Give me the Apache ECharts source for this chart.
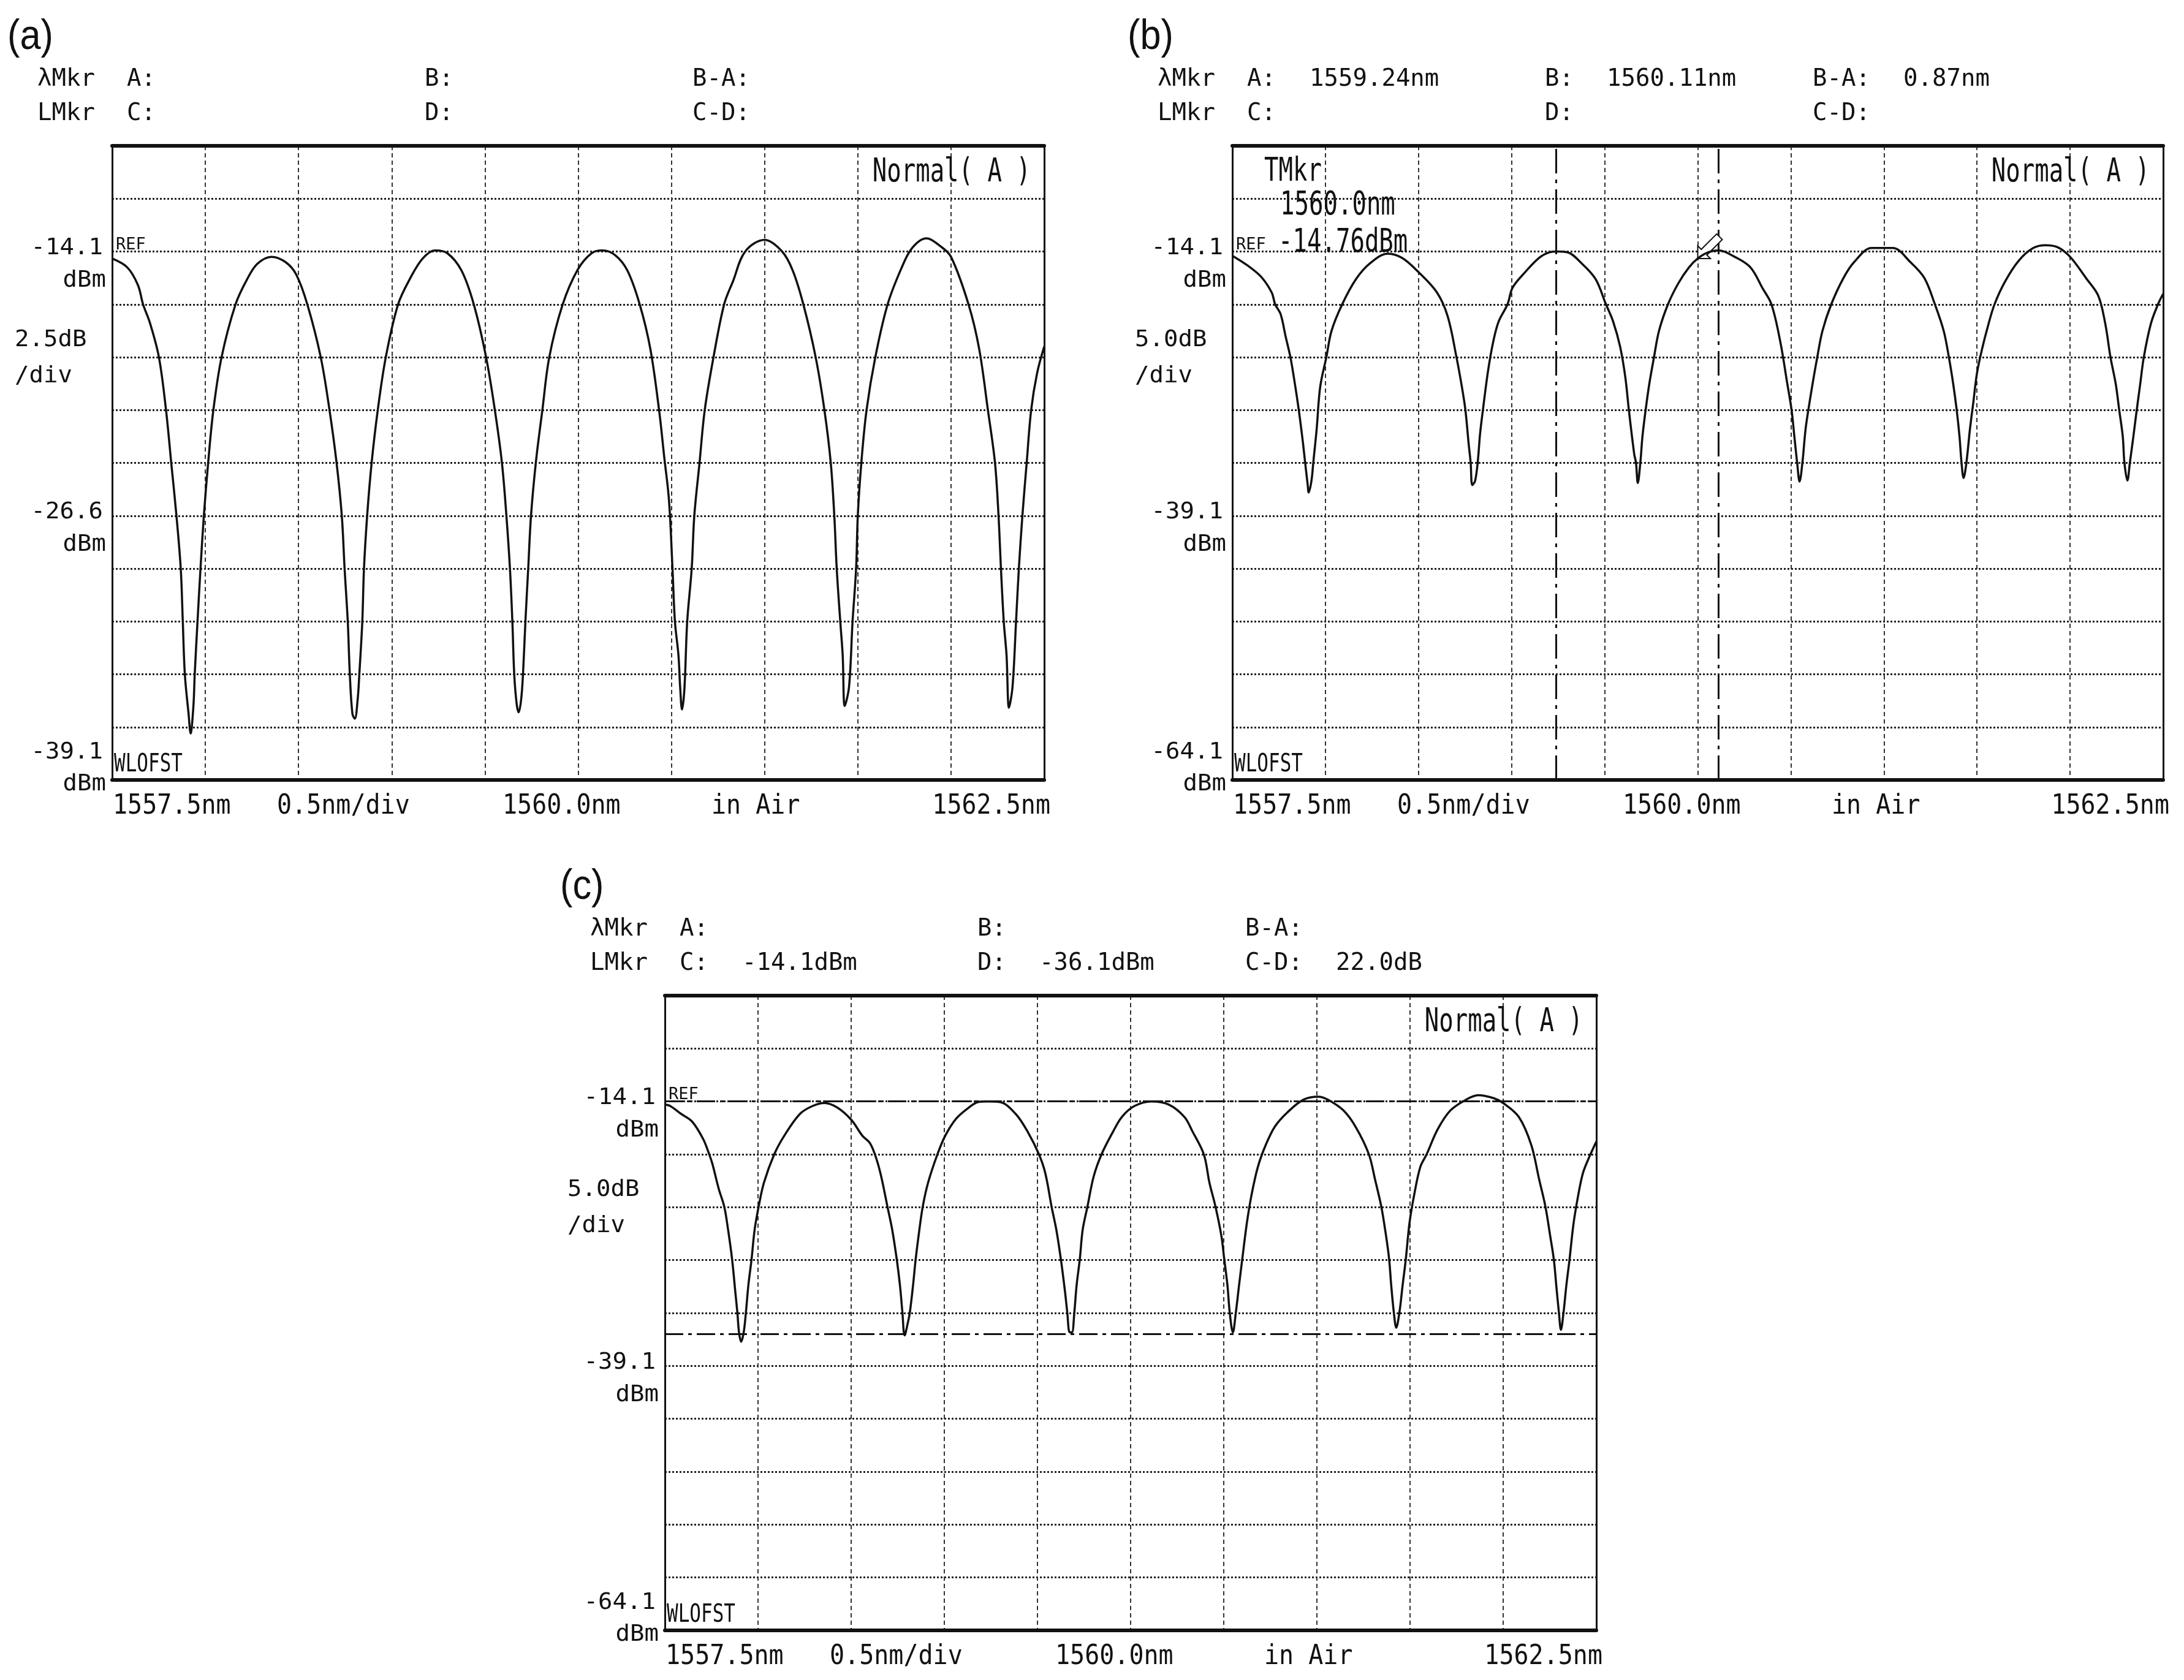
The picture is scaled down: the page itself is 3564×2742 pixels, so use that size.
<!DOCTYPE html>
<html>
<head>
<meta charset="utf-8">
<script src="https://cdn.jsdelivr.net/npm/echarts@6/dist/echarts.min.js"></script>
<style>
html,body{margin:0;padding:0;background:#fff}
#main{width:3564px;height:2742px}
</style>
</head>
<body>
<div id="main"></div>
<script>
// ---------------- data ----------------
const PANEL_NAMES = ['(a)', '(b)', '(c)'];
const X_MIN = 1557.5, X_MAX = 1562.5, X_STEP = 0.5;
const X_LABELS = ['1557.5nm', '0.5nm/div', '1560.0nm', 'in Air', '1562.5nm'];

const WL_A = [1557.500,1557.581,1557.638,1557.666,1557.704,1557.751,1557.789,1557.817,1557.845,1557.868,1557.879,1557.890,1557.910,1557.921,1557.936,1557.943,1557.958,1557.974,1557.992,1558.015,1558.043,1558.087,1558.162,1558.223,1558.279,1558.355,1558.430,1558.487,1558.547,1558.619,1558.666,1558.704,1558.732,1558.747,1558.764,1558.775,1558.789,1558.802,1558.817,1558.826,1558.842,1558.851,1558.868,1558.892,1558.925,1558.968,1559.034,1559.100,1559.166,1559.232,1559.298,1559.374,1559.440,1559.506,1559.553,1559.591,1559.615,1559.634,1559.647,1559.657,1559.670,1559.681,1559.694,1559.704,1559.717,1559.732,1559.747,1559.774,1559.808,1559.845,1559.917,1559.998,1560.072,1560.130,1560.198,1560.264,1560.330,1560.387,1560.434,1560.462,1560.487,1560.506,1560.519,1560.538,1560.547,1560.557,1560.570,1560.585,1560.609,1560.623,1560.651,1560.679,1560.726,1560.783,1560.830,1560.896,1561.000,1561.094,1561.151,1561.208,1561.274,1561.321,1561.355,1561.374,1561.387,1561.406,1561.419,1561.430,1561.453,1561.472,1561.491,1561.500,1561.519,1561.547,1561.594,1561.660,1561.736,1561.792,1561.868,1561.943,1562.000,1562.094,1562.151,1562.198,1562.236,1562.255,1562.268,1562.283,1562.298,1562.311,1562.330,1562.349,1562.364,1562.383,1562.406,1562.430,1562.462,1562.500];
const DBM_A = [-14.43,-14.85,-15.68,-16.6,-17.51,-19.1,-21.6,-24.1,-26.6,-29.1,-31.6,-34.1,-35.97,-36.9,-35.6,-34.1,-31.6,-29.1,-26.6,-24.1,-21.6,-19.1,-16.6,-15.43,-14.68,-14.35,-14.6,-15.18,-16.6,-19.1,-21.6,-24.1,-26.6,-29.1,-31.6,-34.1,-35.97,-36.2,-35.3,-34.1,-31.6,-29.1,-26.6,-24.1,-21.6,-19.1,-16.6,-15.35,-14.43,-14.05,-14.18,-15.0,-16.6,-19.1,-21.6,-24.1,-26.6,-29.1,-31.6,-34.1,-35.5,-35.9,-35.3,-34.1,-31.6,-29.1,-26.6,-24.0,-21.6,-19.1,-16.6,-14.95,-14.18,-14.05,-14.27,-15.0,-16.6,-18.7,-21.6,-23.85,-25.85,-29.1,-31.6,-33.2,-34.7,-35.77,-34.77,-31.6,-29.1,-26.6,-24.1,-21.6,-19.1,-16.6,-15.52,-14.1,-13.55,-14.1,-15.0,-16.6,-19.1,-21.6,-24.1,-26.6,-29.1,-31.6,-33.2,-35.6,-34.7,-31.6,-29.1,-26.6,-24.1,-21.6,-19.1,-16.6,-14.85,-13.93,-13.48,-13.85,-14.35,-16.6,-18.7,-21.6,-24.1,-26.6,-29.1,-31.6,-33.2,-35.68,-34.7,-31.6,-29.1,-26.6,-24.1,-21.6,-19.85,-18.6];

const WL_B = [1557.500,1557.580,1557.655,1557.712,1557.730,1557.759,1557.787,1557.812,1557.835,1557.857,1557.878,1557.891,1557.905,1557.910,1557.925,1557.935,1557.953,1557.972,1558.005,1558.033,1558.090,1558.165,1558.241,1558.336,1558.411,1558.497,1558.600,1558.657,1558.704,1558.733,1558.752,1558.770,1558.780,1558.789,1558.804,1558.818,1558.831,1558.846,1558.874,1558.903,1558.931,1558.978,1559.006,1559.073,1559.148,1559.205,1559.243,1559.300,1559.375,1559.451,1559.507,1559.545,1559.583,1559.611,1559.630,1559.659,1559.668,1559.678,1559.692,1559.703,1559.720,1559.740,1559.765,1559.792,1559.840,1559.896,1559.953,1560.000,1560.057,1560.113,1560.198,1560.283,1560.349,1560.396,1560.443,1560.481,1560.504,1560.519,1560.534,1560.547,1560.562,1560.579,1560.594,1560.617,1560.642,1560.670,1560.717,1560.783,1560.840,1560.934,1561.047,1561.142,1561.217,1561.274,1561.321,1561.349,1561.372,1561.391,1561.406,1561.417,1561.428,1561.443,1561.462,1561.481,1561.500,1561.528,1561.557,1561.594,1561.651,1561.726,1561.802,1561.868,1561.934,1562.000,1562.085,1562.151,1562.189,1562.217,1562.245,1562.264,1562.283,1562.292,1562.308,1562.321,1562.340,1562.358,1562.377,1562.396,1562.434,1562.472,1562.500];
const DBM_B = [-14.5,-15.4,-16.5,-18.0,-19.1,-20.0,-22.2,-24.1,-26.5,-29.1,-32.0,-34.05,-36.2,-36.9,-35.8,-34.05,-30.9,-26.9,-24.1,-21.6,-19.1,-16.7,-15.2,-14.3,-14.7,-16.0,-18.0,-20.25,-24.1,-26.9,-29.1,-32.4,-34.05,-36.2,-35.8,-34.05,-31.3,-29.1,-25.35,-22.5,-20.7,-19.1,-17.5,-16.05,-14.7,-14.17,-14.1,-14.17,-15.2,-16.7,-19.1,-20.7,-23.1,-26.0,-29.1,-33.3,-34.05,-36.0,-34.0,-31.6,-29.1,-26.6,-24.1,-21.6,-19.1,-17.1,-15.6,-14.76,-14.17,-14.0,-14.6,-15.6,-17.6,-19.1,-22.6,-26.6,-29.1,-31.6,-34.1,-35.87,-34.1,-30.93,-29.1,-26.6,-24.1,-21.6,-19.1,-16.6,-15.1,-13.77,-13.77,-15.1,-16.6,-19.1,-21.6,-24.1,-26.6,-29.1,-31.6,-34.1,-35.53,-34.1,-30.93,-28.27,-25.6,-23.27,-21.27,-19.1,-16.93,-14.93,-13.77,-13.5,-13.7,-14.6,-16.6,-18.27,-20.93,-24.1,-26.6,-29.1,-31.6,-34.1,-35.77,-34.1,-31.6,-29.1,-26.6,-24.1,-20.93,-19.1,-18.1];

const WL_C = [1557.500,1557.529,1557.587,1557.646,1557.705,1557.738,1557.755,1557.789,1557.819,1557.839,1557.861,1557.878,1557.889,1557.898,1557.909,1557.923,1557.935,1557.948,1557.965,1557.982,1558.003,1558.032,1558.087,1558.141,1558.225,1558.292,1558.356,1558.426,1558.502,1558.560,1558.602,1558.636,1558.661,1558.695,1558.720,1558.745,1558.762,1558.775,1558.787,1558.804,1558.815,1558.832,1558.846,1558.862,1558.884,1558.913,1558.963,1559.005,1559.064,1559.131,1559.181,1559.232,1559.299,1559.383,1559.450,1559.508,1559.542,1559.576,1559.601,1559.626,1559.648,1559.660,1559.673,1559.685,1559.698,1559.710,1559.727,1559.743,1559.768,1559.802,1559.844,1559.903,1559.953,1560.020,1560.112,1560.205,1560.289,1560.331,1560.393,1560.423,1560.456,1560.487,1560.503,1560.520,1560.532,1560.549,1560.565,1560.582,1560.599,1560.624,1560.649,1560.683,1560.725,1560.775,1560.842,1560.926,1561.007,1561.060,1561.144,1561.211,1561.279,1561.312,1561.346,1561.371,1561.388,1561.399,1561.413,1561.426,1561.443,1561.460,1561.477,1561.497,1561.522,1561.555,1561.589,1561.648,1561.715,1561.799,1561.866,1561.950,1562.000,1562.084,1562.151,1562.193,1562.227,1562.252,1562.272,1562.285,1562.299,1562.310,1562.324,1562.339,1562.356,1562.378,1562.403,1562.428,1562.461,1562.500];
const DBM_C = [-14.4,-14.54,-15.28,-16.0,-17.64,-19.1,-20.0,-22.36,-24.07,-26.2,-29.06,-32.1,-34.04,-35.93,-36.81,-35.93,-34.04,-31.5,-29.06,-26.2,-24.07,-21.77,-19.1,-17.34,-15.28,-14.54,-14.25,-14.69,-15.87,-17.34,-18.08,-19.56,-21.18,-24.07,-26.2,-29.06,-31.5,-34.04,-36.22,-35.04,-34.04,-31.5,-29.06,-26.78,-24.07,-21.77,-19.1,-17.34,-15.72,-14.69,-14.16,-14.1,-14.16,-15.28,-17.05,-19.1,-20.88,-24.07,-26.2,-29.06,-32.1,-34.04,-35.93,-35.93,-34.04,-31.5,-29.06,-26.2,-24.07,-21.18,-19.1,-17.05,-15.57,-14.54,-14.1,-14.4,-15.57,-16.9,-19.1,-21.77,-24.07,-26.78,-29.06,-31.5,-34.04,-35.93,-34.04,-31.5,-29.06,-25.6,-22.95,-20.3,-18.23,-16.46,-15.13,-13.95,-13.66,-13.95,-14.98,-16.6,-19.1,-21.47,-24.07,-26.78,-29.06,-31.5,-34.04,-35.49,-34.04,-31.5,-29.06,-25.6,-22.95,-20.3,-19.1,-16.75,-14.98,-13.95,-13.51,-13.8,-14.25,-15.57,-18.23,-21.47,-24.07,-26.78,-29.06,-31.5,-34.04,-35.69,-34.04,-31.5,-29.06,-25.6,-22.95,-20.88,-19.4,-17.9];

// y scale per panel: [bottom, top, REF level, dB per division]
const Y_SCALE_A = [-39.1, -9.1, -14.1, 2.5];
const Y_SCALE_B = [-64.1, -4.1, -14.1, 5.0];
const Y_SCALE_C = [-64.1, -4.1, -14.1, 5.0];
const Y_LABELS_A = [-14.1, -26.6, -39.1];
const Y_LABELS_B = [-14.1, -39.1, -64.1];
const Y_LABELS_C = [-14.1, -39.1, -64.1];
const DIV_LABEL_A = ['2.5dB', '/div'];
const DIV_LABEL_B = ['5.0dB', '/div'];
const DIV_LABEL_C = ['5.0dB', '/div'];

const HEADER_LABELS = [['λMkr', 'A:', 'B:', 'B-A:'], ['LMkr', 'C:', 'D:', 'C-D:']];
const HEADER_VALUES_A = [['', '', ''], ['', '', '']];
const HEADER_VALUES_B = [['1559.24nm', '1560.11nm', '0.87nm'], ['', '', '']];
const HEADER_VALUES_C = [['', '', ''], ['-14.1dBm', '-36.1dBm', '22.0dB']];

const WL_MARKERS_B = [1559.24, 1560.11];      // λMkr A, B (vertical dash-dot lines)
const LEVEL_MARKERS_C = [-14.1, -36.1];       // LMkr C, D (horizontal dash-dot lines)
const TMKR_B = [1560.0, -14.76];              // trace marker
const NORMAL_LABEL = 'Normal( A )';

// ---------------- chart ----------------
const PANELS = [
  {name: PANEL_NAMES[0], wl: WL_A, dbm: DBM_A, ys: Y_SCALE_A, yl: Y_LABELS_A, dl: DIV_LABEL_A, hv: HEADER_VALUES_A,
   grid: {left: 183, top: 238, width: 1521, height: 1035}},
  {name: PANEL_NAMES[1], wl: WL_B, dbm: DBM_B, ys: Y_SCALE_B, yl: Y_LABELS_B, dl: DIV_LABEL_B, hv: HEADER_VALUES_B,
   grid: {left: 2011, top: 238, width: 1519, height: 1035}},
  {name: PANEL_NAMES[2], wl: WL_C, dbm: DBM_C, ys: Y_SCALE_C, yl: Y_LABELS_C, dl: DIV_LABEL_C, hv: HEADER_VALUES_C,
   grid: {left: 1085, top: 1625, width: 1520, height: 1036}}
];

const INK = '#111';
const grids = [], xAxes = [], yAxes = [], series = [];
PANELS.forEach((p, i) => {
  const divs = Math.round((p.ys[1] - p.ys[0]) / p.ys[3]);
  grids.push(Object.assign({show: false, containLabel: false, outerBoundsMode: 'none'}, p.grid));
  xAxes.push({type: 'value', gridIndex: i, min: X_MIN, max: X_MAX, interval: X_STEP, position: 'bottom',
    axisLine: {show: true, onZero: false, lineStyle: {color: INK, width: 6}},
    axisTick: {show: false}, axisLabel: {show: false},
    splitLine: {show: true, lineStyle: {color: '#333', width: 2, type: [7, 5]}}});
  xAxes.push({type: 'value', gridIndex: i, min: X_MIN, max: X_MAX, position: 'top',
    axisLine: {show: true, onZero: false, lineStyle: {color: INK, width: 6}},
    axisTick: {show: false}, axisLabel: {show: false}, splitLine: {show: false}});
  yAxes.push({type: 'value', gridIndex: i, min: p.ys[0], max: p.ys[1], position: 'left',
    axisLine: {show: true, onZero: false, lineStyle: {color: INK, width: 3}},
    axisTick: {show: false}, axisLabel: {show: false}, splitLine: {show: false}});
  yAxes.push({type: 'value', gridIndex: i, min: 0, max: divs, interval: 1, position: 'right',
    axisLine: {show: true, onZero: false, lineStyle: {color: INK, width: 3}},
    axisTick: {show: false}, axisLabel: {show: false},
    splitLine: {show: true, lineStyle: {color: '#222', width: 3, type: [3, 3]}}});
  const s = {
    type: 'line', xAxisIndex: 2 * i, yAxisIndex: 2 * i,
    data: p.wl.map((w, k) => [w, p.dbm[k]]),
    showSymbol: false, symbol: 'none', smooth: 0.35, clip: true,
    lineStyle: {color: INK, width: 3.5}, silent: true, z: 5
  };
  if (i === 1) {
    s.markLine = {silent: true, symbol: ['none', 'none'], label: {show: false}, animation: false,
      lineStyle: {color: INK, width: 3, type: [40, 10, 6, 10]},
      data: WL_MARKERS_B.map(v => ({xAxis: v}))};
    s.markPoint = {silent: true, animation: false, label: {show: false},
      symbol: 'path://M0,35L0,17L5,22L27,0L35,8L13,30L18,35Z', symbolSize: 40, symbolKeepAspect: true,
      symbolOffset: ['50%', '-50%'],
      itemStyle: {color: '#fff', borderColor: INK, borderWidth: 2},
      data: [{coord: TMKR_B}]};
  }
  if (i === 2) {
    s.markLine = {silent: true, symbol: ['none', 'none'], label: {show: false}, animation: false,
      lineStyle: {color: INK, width: 3, type: [30, 8, 6, 8]},
      data: LEVEL_MARKERS_C.map(v => ({yAxis: v}))};
  }
  series.push(s);
});

const chart = echarts.init(document.getElementById('main'), null, {renderer: 'canvas'});
chart.setOption({
  backgroundColor: '#fff',
  animation: false,
  grid: grids, xAxis: xAxes, yAxis: yAxes, series: series
});

// ---------------- texts positioned from the axes ----------------
const MONO = '"DejaVu Sans Mono", "Liberation Mono", monospace';
function text(x, y, s, font, sy, align, sx) {
  return {type: 'text', x: x, y: y, scaleX: sx || 1, scaleY: sy || 1, silent: true, z: 100,
    style: {text: s, x: 0, y: 0, font: font, fill: INK,
      align: align || 'left', textAlign: align || 'left',
      verticalAlign: 'middle', textVerticalAlign: 'middle'}};
}
const els = [];
PANELS.forEach((p, i) => {
  const P = (x, y) => chart.convertToPixel({seriesIndex: i}, [x, y]);
  const L = P(X_MIN, p.ys[0])[0], R = P(X_MAX, p.ys[0])[0];
  const B = P(X_MIN, p.ys[0])[1], T = P(X_MIN, p.ys[1])[1];
  const yRef = P(X_MIN, p.ys[2])[1];
  const hdr = '39px ' + MONO;
  els.push(text(L - 171, T - 177, p.name, '68px "Liberation Sans", Arial, sans-serif', 1, 'left', 0.9));
  const cols = [L - 122, L + 24, L + 510, L + 947];
  const vcols = [L + 126, L + 611, L + 1095];
  [T - 108, T - 52].forEach((yy, r) => {
    HEADER_LABELS[r].forEach((s, c) => els.push(text(cols[c], yy, s, hdr, 1)));
    p.hv[r].forEach((s, c) => { if (s) els.push(text(vcols[c], yy, s, hdr, 1)); });
  });
  els.push(text(R - 22, T + 44, NORMAL_LABEL, '39px ' + MONO, 1.37, 'right'));
  els.push(text(L + 6, yRef - 11, 'REF', '27px ' + MONO, 1));
  els.push(text(L + 3, B - 25, 'WLOFST', '31px ' + MONO, 1.33));
  p.yl.forEach(v => {
    const yy = P(X_MIN, v)[1];
    const bottom = Math.abs(v - p.ys[0]) < 1e-6;
    els.push(text(L - 15, bottom ? B - 45 : yy - 5, v.toFixed(1), '39px ' + MONO, 0.95, 'right'));
    els.push(text(L - 10, bottom ? B + 7 : yy + 48, 'dBm', '39px ' + MONO, 0.95, 'right'));
  });
  const yDiv = P(X_MIN, p.ys[2] - 2 * p.ys[3])[1];
  els.push(text(L - 159, yDiv - 28, p.dl[0], '39px ' + MONO, 0.95));
  els.push(text(L - 159, yDiv + 31, p.dl[1], '39px ' + MONO, 0.95));
  const xl = '40px ' + MONO;
  els.push(text(L + 1, B + 43, X_LABELS[0], xl, 1.13));
  els.push(text(L + 269, B + 43, X_LABELS[1], xl, 1.13));
  els.push(text(L + 637, B + 43, X_LABELS[2], xl, 1.13));
  els.push(text(L + 978, B + 43, X_LABELS[3], xl, 1.13));
  els.push(text(R + 10, B + 43, X_LABELS[4], xl, 1.13, 'right'));
  if (i === 1) {
    const big = '39px ' + MONO;
    els.push(text(L + 52, T + 43, 'TMkr', big, 1.37));
    els.push(text(L + 78, T + 98, TMKR_B[0].toFixed(1) + 'nm', big, 1.37));
    els.push(text(L + 75, T + 159, TMKR_B[1].toFixed(2) + 'dBm', big, 1.37));
  }
});
chart.setOption({graphic: {elements: els}});
</script>
</body>
</html>
